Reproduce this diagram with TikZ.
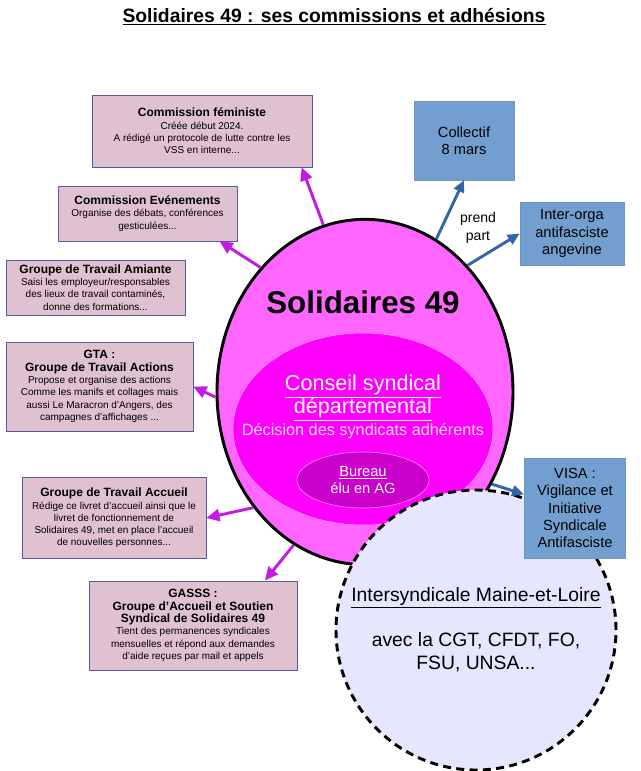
\documentclass[tikz,border=0pt]{standalone}
\usepackage{fontspec}
\setmainfont{Liberation Sans}
\usetikzlibrary{shapes, arrows.meta, positioning}
\definecolor{rose}{HTML}{DFC1D0}
\definecolor{bleu}{HTML}{729FCF}
\definecolor{bleufonce}{HTML}{3465A4}
\definecolor{violet}{HTML}{C41AE6}
\definecolor{solrose}{HTML}{FF66FF}
\definecolor{csdrose}{HTML}{FF00FF}
\definecolor{bureaurose}{HTML}{CC00CC}
\definecolor{interbleu}{HTML}{E6E6FF}
\tikzset{
    commission/.style ={rectangle, draw=gray!70!blue, fill=rose, align=center, inner sep=2pt, font=\fontsize{7.5}{9.2}\selectfont},
    collectif/.style ={rectangle, draw=bleufonce!70, fill=bleu, align=center, inner sep=2pt, font=\fontsize{11}{13}\selectfont},
    lien/.style ={-{Triangle[length=10pt,width=9pt]}, line width=2.2pt, violet},
    lienbleu/.style ={-{Triangle[length=9pt,width=8pt]}, line width=2.2pt, bleufonce},
}
\newcommand{\titre}[1]{{\fontsize{9}{11}\selectfont\bfseries #1}}
\begin{document}
\begin{tikzpicture}[x=0.75pt, y=-0.75pt]
    \useasboundingbox (0,0) rectangle (640,771);
    \node[font=\fontsize{14.5}{17}\selectfont\bfseries] (titre) at (334,17) {\underline{Solidaires 49 : ses commissions et adhésions}};
    % solidaires
    \node[ellipse, draw, line width=2.2pt, fill=solrose, minimum width=222pt, minimum height=259pt] (sol) at (365,392) {};
    \node[font=\fontsize{23.5}{28}\selectfont\bfseries] (soltitre) at (363,302) {Solidaires 49};
    \node[ellipse, draw=white!60!csdrose, fill=csdrose, minimum width=195pt, minimum height=144pt] (csd) at (363,429) {};
    \node[text=white, align=center, font=\fontsize{16.2}{17.5}\selectfont] (csdtitre) at (363,398) {\underline{Conseil syndical}\\\underline{départemental}};
    \node[text=white!85!csdrose, font=\fontsize{12.2}{14}\selectfont] (csdtexte) at (363,431) {Décision des syndicats adhérents};
    \node[ellipse, draw=white!60!csdrose, fill=bureaurose, minimum width=99pt, minimum height=42pt, text=white, align=center, font=\fontsize{11}{13}\selectfont] (bureau) at (363,480) {\underline{Bureau}\\élu en AG};
    % intersyndicale
    \node[circle, draw, line width=2.2pt, dash pattern=on 6pt off 4pt, fill=interbleu, minimum size=210pt] (inter) at (476,630) {};
    \node[font=\fontsize{14.5}{17}\selectfont] (intertitre) at (476,598) {\underline{Intersyndicale Maine-et-Loire}};
    \node[font=\fontsize{14.5}{17}\selectfont, align=center] (intertexte) at (476,652) {avec la CGT, CFDT, FO,\\FSU, UNSA...};
    % commissions
    \node[commission, minimum width=165pt, minimum height=54pt] (fem) at (202,131) {\titre{Commission féministe}\\Créée début 2024.\\A rédigé un protocole de lutte contre les\\VSS en interne...};
    \node[commission, minimum width=134pt, minimum height=41pt] (even) at (147.5,213.5) {\titre{Commission Evénements}\\Organise des débats, conférences\\gesticulées...};
    \node[commission, minimum width=134pt, minimum height=41pt] (amiante) at (95.5,287.5) {\titre{Groupe de Travail Amiante}\\Saisi les employeur/responsables\\des lieux de travail contaminés,\\donne des formations...};
    \node[commission, minimum width=140pt, minimum height=67pt] (gta) at (99.5,386.5) {\titre{GTA :}\\\titre{Groupe de Travail Actions}\\Propose et organise des actions\\Comme les manifs et collages mais\\aussi Le Maracron d'Angers, des\\campagnes d'affichages ...};
    \node[commission, minimum width=138pt, minimum height=61pt] (accueil) at (114,518) {\titre{Groupe de Travail Accueil}\\Rédige ce livret d'accueil ainsi que le\\livret de fonctionnement de\\Solidaires 49, met en place l'accueil\\de nouvelles personnes...};
    \node[commission, minimum width=156pt, minimum height=67pt] (gasss) at (193,625.5) {\titre{GASSS :}\\\titre{Groupe d'Accueil et Soutien}\\\titre{Syndical de Solidaires 49}\\Tient des permanences syndicales\\mensuelles et répond aux demandes\\d'aide reçues par mail et appels};
    % collectifs
    \node[collectif, minimum width=75pt, minimum height=59pt] (mars) at (464,140.5) {Collectif\\8 mars};
    \node[collectif, minimum width=78pt, minimum height=47pt] (orga) at (572,233.5) {Inter-orga\\antifasciste\\angevine};
    \node[collectif, minimum width=76pt, minimum height=75pt] (visa) at (575,508) {VISA :\\Vigilance et\\Initiative\\Syndicale\\Antifasciste};
    \node[align=center, font=\fontsize{10.5}{13}\selectfont] (prend) at (478,228) {prend\\part};
    % liens
    \path[lien] (sol.104) edge (fem.-20);
    \path[lien] (sol.130) edge (even.-21);
    \path[lien] (sol.182) edge (gta.east);
    \path[lien] (sol.226) edge (accueil.east);
    \path[lien] (sol.245) edge (gasss.32);
    \path[lienbleu] (sol.65) edge (mars.south);
    \path[lienbleu] (sol.51) edge (orga.west);
    \path[lienbleu] (sol.-36) edge (visa.165);
\end{tikzpicture}
\end{document}
